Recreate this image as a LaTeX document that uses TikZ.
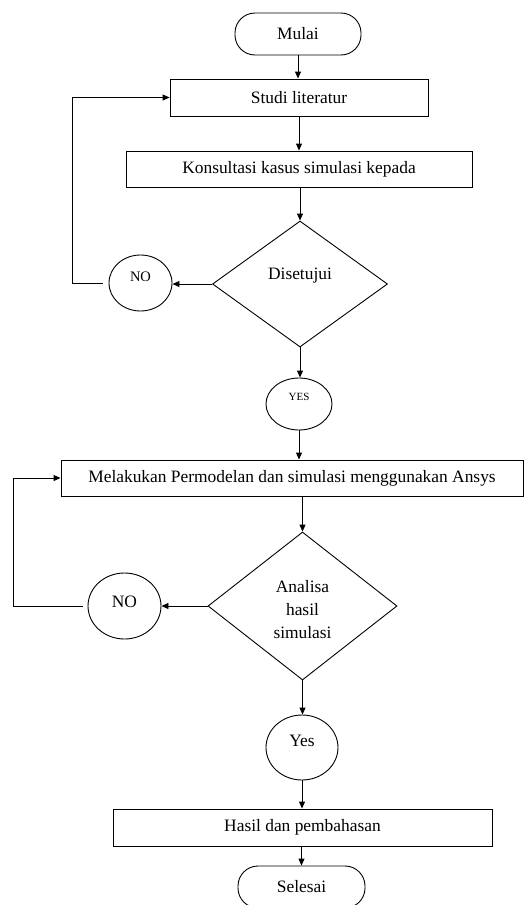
\documentclass[tikz,border=0pt]{standalone}
\usepackage{fontspec}
\setmainfont{Liberation Serif}
\usetikzlibrary{arrows.meta,shapes.geometric}
\begin{document}
\begin{tikzpicture}[x=1pt,y=-1pt, line width=0.9pt,
  base/.style={draw, inner sep=0pt, font=\fontsize{17.4}{23}\selectfont, align=center},
  proc/.style={base, rectangle, minimum height=37pt},
  term/.style={base, rectangle, rounded corners=20pt, minimum width=126pt, minimum height=42pt},
  dec/.style={base, diamond},
  conn/.style={base, ellipse},
  arr/.style={-{Triangle[length=7pt,width=6pt]}}]
\useasboundingbox (0,0) rectangle (527,905);
\fill[white] (0,0) rectangle (527,905);
% nodes
\node[term] (mulai) at (298,34) {Mulai};
\node[proc, minimum width=258pt] (studi) at (299,97.5) {Studi literatur};
\node[proc, minimum width=346pt, minimum height=36pt] (kons) at (299,169) {Konsultasi kasus simulasi kepada};
\node[dec, minimum width=175pt, minimum height=126pt, text depth=20pt] (d1) at (300,284) {Disetujui};
\node[conn, minimum width=63pt, minimum height=56pt, font=\fontsize{14.5}{17}\selectfont, text depth=12pt] (no1) at (140.5,283) {NO};
\node[conn, minimum width=66pt, minimum height=52pt, font=\fontsize{11}{13}\selectfont, text depth=14pt] (yes1) at (299,404) {YES};
\node[proc, minimum width=462pt, minimum height=36pt] (mel) at (292,478) {Melakukan Permodelan dan simulasi menggunakan Ansys};
\node[dec, minimum width=189pt, minimum height=148pt] (d2) at (302.5,606) {\\[-3pt]Analisa\\hasil\\simulasi};
\node[conn, minimum width=73pt, minimum height=66pt, text depth=8pt] (no2) at (124.5,606) {NO};
\node[conn, minimum width=72pt, minimum height=65pt, text depth=13pt] (yes2) at (302,747.5) {Yes};
\node[proc, minimum width=379pt] (hasil) at (302.5,827.5) {Hasil dan pembahasan};
\node[term, minimum width=127pt] (selesai) at (301.5,887) {Selesai};
% connectors
\draw[arr] (mulai.south) -- (mulai.south |- studi.north);
\draw[arr] (studi.south) -- (studi.south |- kons.north);
\draw[arr] (kons.south -| d1.north) -- (d1.north);
\draw[arr] (d1.west) -- (no1.east |- d1.west);
\draw[arr] ([xshift=-6pt]no1.west) -- ++(-30.5,0) |- (studi.west);
\draw[arr] (d1.south) -- (d1.south |- yes1.north);
\draw[arr] (yes1.south) -- (yes1.south |- mel.north);
\draw[arr] (mel.south -| d2.north) -- (d2.north);
\draw[arr] (d2.west) -- (no2.east);
\draw[arr] ([xshift=-5pt]no2.west) -- ++(-69,0) |- (mel.west);
\draw[arr] (d2.south) -- (d2.south |- yes2.north);
\draw[arr] (yes2.south) -- (yes2.south |- hasil.north);
\draw[arr] (hasil.south -| selesai.north) -- (selesai.north);
\end{tikzpicture}
\end{document}
